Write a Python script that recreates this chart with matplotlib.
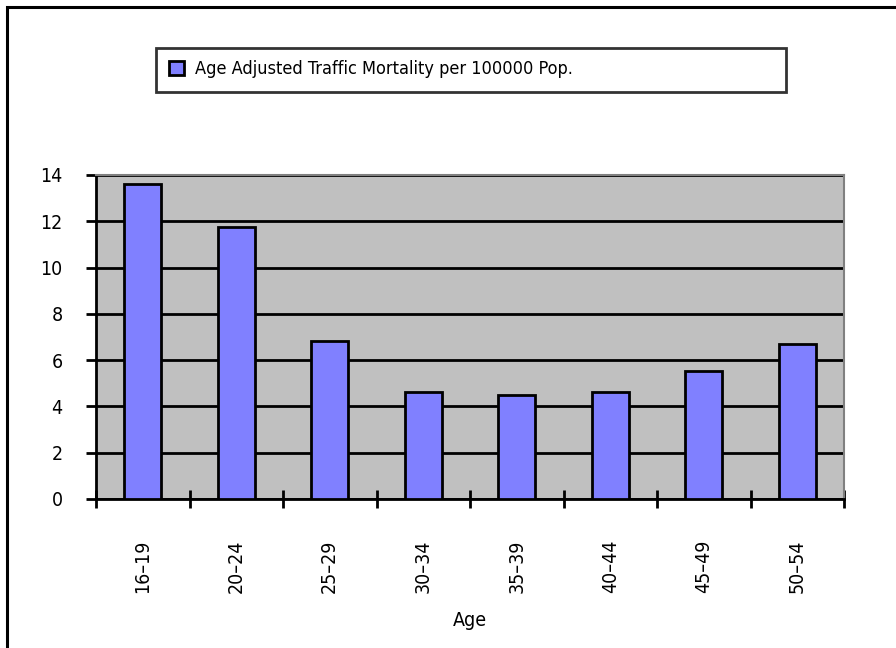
import matplotlib
matplotlib.use("Agg")
import matplotlib.pyplot as plt
from matplotlib.patches import Rectangle
import numpy as np

age_groups = ["16–19", "20–24", "25–29", "30–34", "35–39", "40–44", "45–49", "50–54"]
mortality = [13.6, 11.75, 6.83, 4.62, 4.5, 4.62, 5.53, 6.7]
y_ticks = [0, 2, 4, 6, 8, 10, 12, 14]
series_name = "Age Adjusted Traffic Mortality per 100000 Pop."
x_title = "Age"

plt.rcParams["font.family"] = ["DejaVu Sans"]
plt.rcParams["font.stretch"] = "condensed"

W, H = 896, 648
fig = plt.figure(figsize=(W / 100, H / 100), dpi=100)
fig.patch.set_facecolor("white")

# outer chart border (runs off the right/bottom edge)
fig.add_artist(Rectangle((7 / W, -0.1), 1.2, 1 - 7 / H + 0.1, transform=fig.transFigure,
                         fill=False, edgecolor="black", linewidth=2.2))

ax = fig.add_axes([96 / W, 1 - 499 / H, (844 - 96) / W, (499 - 175) / H])
ax.set_facecolor("#C0C0C0")

x = np.arange(len(age_groups))
bars = ax.bar(x, mortality, width=0.4, color="#8080FF", edgecolor="black",
              linewidth=2, zorder=3, label=series_name)

ax.set_xlim(-0.5, len(age_groups) - 0.5)
ax.set_ylim(0, 14)
ax.set_yticks(y_ticks)
ax.set_yticklabels([str(v) for v in y_ticks], fontsize=14)
ax.yaxis.grid(True, color="black", linewidth=2, zorder=1)
ax.set_axisbelow(True)

ax.set_xticks(x)
ax.set_xticklabels(age_groups, rotation=90, fontsize=14)
ax.set_xticks(np.arange(-0.5, len(age_groups)), minor=True)
ax.tick_params(axis="x", which="major", length=0, pad=29)
ax.tick_params(axis="x", which="minor", direction="inout", length=13, width=2)
ax.tick_params(axis="y", direction="out", length=7, width=2, pad=17)

for s in ("left", "bottom"):
    ax.spines[s].set_color("black")
    ax.spines[s].set_linewidth(2)
for s in ("top", "right"):
    ax.spines[s].set_color("#808080")
    ax.spines[s].set_linewidth(1.5)

ax.set_xlabel(x_title, fontsize=14)
ax.xaxis.set_label_coords(0.5, -0.345)

leg = fig.legend(handles=[bars], labels=[series_name], loc="center left",
                 bbox_to_anchor=(156 / W, 1 - 92 / H, 630 / W, 45 / H),
                 bbox_transform=fig.transFigure, mode="expand",
                 fontsize=13, frameon=True, fancybox=False, borderaxespad=0,
                 handlelength=0.85, handleheight=0.85, handletextpad=0.6,
                 borderpad=0.72)
leg.get_frame().set_edgecolor("black")
leg.get_frame().set_linewidth(2)

fig.savefig("out.png", dpi=100)
